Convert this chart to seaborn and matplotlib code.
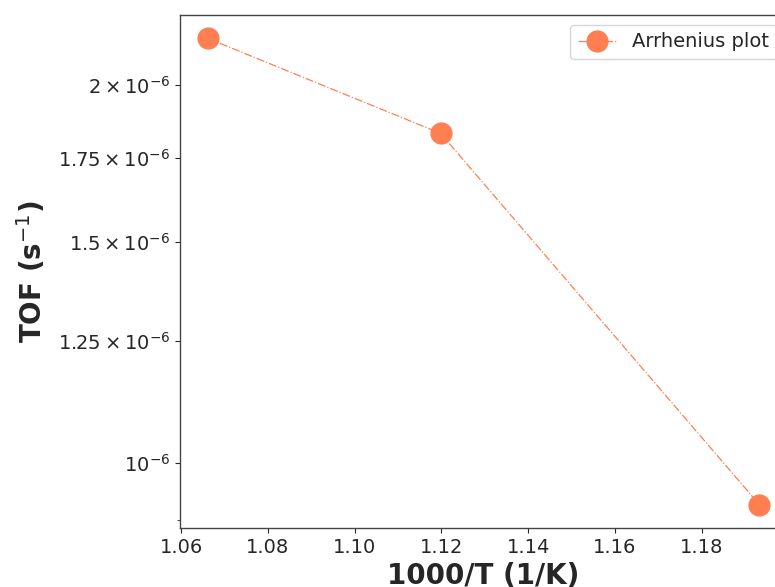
import matplotlib
matplotlib.use("Agg")
import matplotlib.pyplot as plt
import matplotlib.ticker as mticker
import seaborn as sns
import pandas as pd

# Data
inv_T = [1.0661, 1.1198, 1.1933]          # 1000/T (1/K)
tof = [2.18e-6, 1.831e-6, 0.926e-6]        # TOF (s^-1)
series_label = "Arrhenius plot"
ytick_values = [1.0e-6, 1.25e-6, 1.5e-6, 1.75e-6, 2.0e-6]
ytick_labels = [r"$\mathdefault{10^{-6}}$",
                r"$\mathdefault{1.25\times10^{-6}}$",
                r"$\mathdefault{1.5\times10^{-6}}$",
                r"$\mathdefault{1.75\times10^{-6}}$",
                r"$\mathdefault{2\times10^{-6}}$"]
xtick_values = [1.06, 1.08, 1.10, 1.12, 1.14, 1.16, 1.18]

sns.set_style("ticks")
plt.rcParams['font.family'] = ['DejaVu Sans']

df = pd.DataFrame({"x": inv_T, "y": tof})

fig = plt.figure(figsize=(7.75, 5.87), dpi=100)
ax = fig.add_axes([180/775, 59/587, 607/775, 513/587])

sns.lineplot(data=df, x="x", y="y", ax=ax, color="coral", marker="o",
             markersize=16, markeredgecolor="coral", markeredgewidth=0,
             linestyle="-.", linewidth=0.9, label=series_label)

ax.set_yscale("log")
ax.yaxis.set_major_locator(mticker.FixedLocator(ytick_values))
ax.yaxis.set_major_formatter(mticker.FixedFormatter(ytick_labels))
ax.yaxis.set_minor_formatter(mticker.NullFormatter())
ax.set_xticks(xtick_values)
ax.set_xticklabels([f"{v:.2f}" for v in xtick_values])
ax.tick_params(axis="both", labelsize=14)
for s in ax.spines.values():
    s.set_linewidth(1.0)
    s.set_color("#444444")

ax.set_xlabel("1000/T (1/K)", fontsize=20, fontweight="bold")
ax.set_ylabel(r"TOF (s$^{-1}$)", fontsize=20, fontweight="bold", labelpad=7)

ax.legend(loc="upper right", fontsize=14)

fig.savefig("out.png", dpi=100)
